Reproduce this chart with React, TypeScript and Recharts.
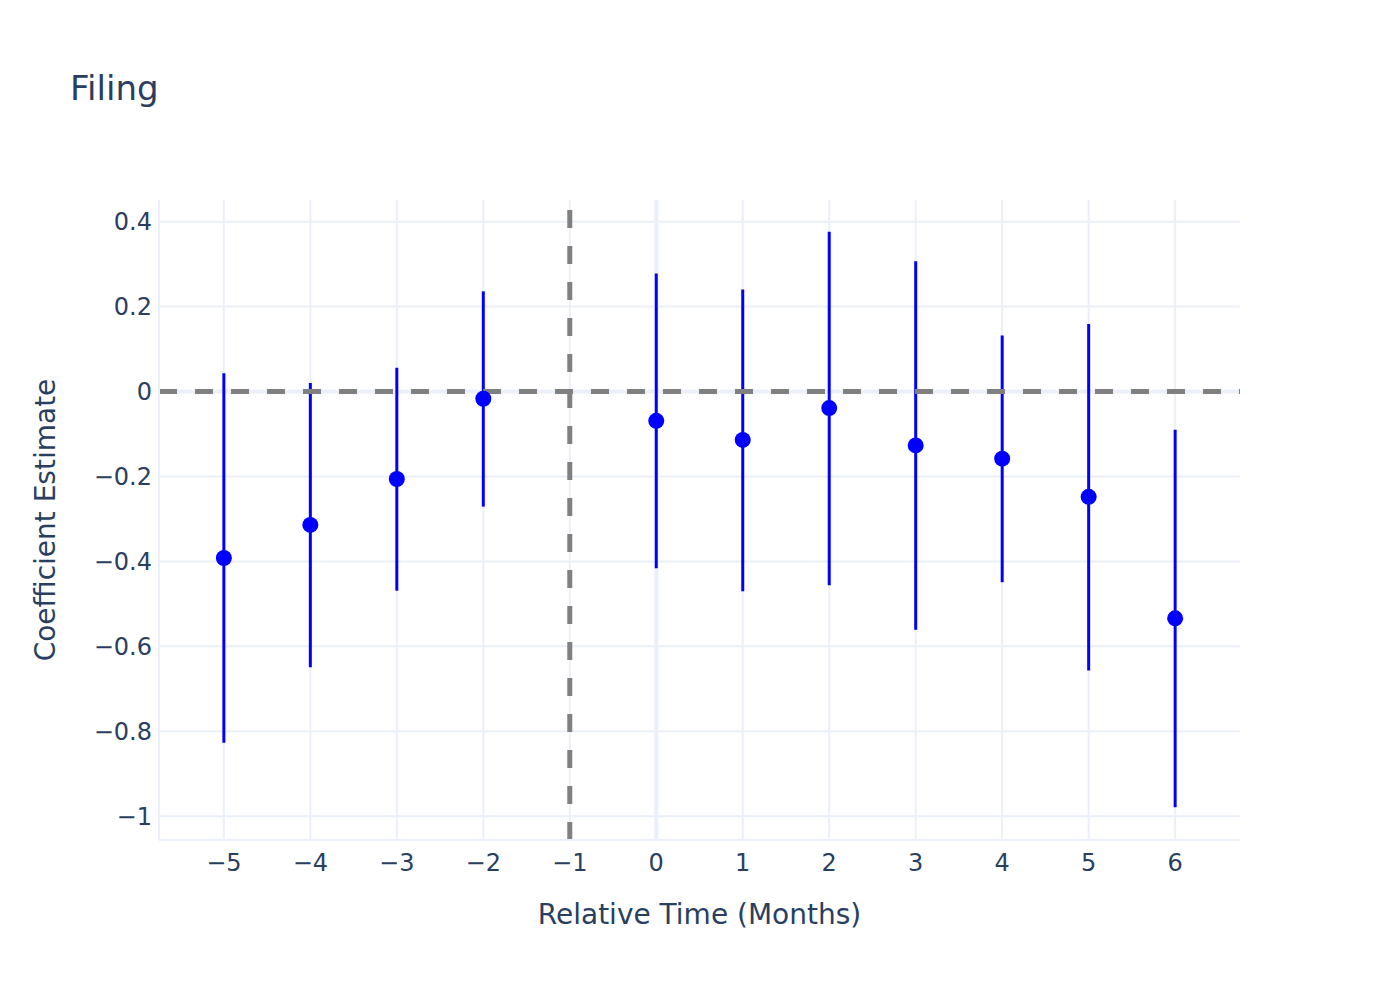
// App.tsx
// Event-study coefficient plot ("Filing") with 95% intervals (Recharts)

import {
  ComposedChart,
  Scatter,
  ErrorBar,
  XAxis,
  YAxis,
  CartesianGrid,
  ReferenceLine,
} from 'recharts'

document.body.style.margin = '0'

const months = [-5, -4, -3, -2, 0, 1, 2, 3, 4, 5, 6]
const estimates = [-0.392, -0.314, -0.206, -0.017, -0.069, -0.114, -0.039, -0.127, -0.158, -0.248, -0.534]
const ciLow = [-0.827, -0.649, -0.469, -0.271, -0.416, -0.47, -0.456, -0.561, -0.449, -0.657, -0.979]
const ciHigh = [0.043, 0.02, 0.056, 0.236, 0.278, 0.24, 0.376, 0.307, 0.132, 0.159, -0.09]

const xTicks = [-5, -4, -3, -2, -1, 0, 1, 2, 3, 4, 5, 6]
const yTicks = [0.4, 0.2, 0, -0.2, -0.4, -0.6, -0.8, -1]
const xDomain: [number, number] = [-5.75, 6.75]
const yDomain: [number, number] = [-1.056, 0.451]

const FONT = '"DejaVu Sans", Verdana, sans-serif'
const TEXT = '#2a3f5f'
const GRID = '#EBF0F8'

const rows = months.map((t, i) => ({
  t,
  est: estimates[i],
  err: [estimates[i] - ciLow[i], ciHigh[i] - estimates[i]],
}))

const fmt = (v: number) => (v < 0 ? '\u2212' + Math.abs(v) : String(v))

const Dot = (props: any) => <circle cx={props.cx} cy={props.cy} r={8} fill="#0000ff" />

export default function App() {
  return (
    <ComposedChart
      width={1400}
      height={1000}
      data={rows}
      margin={{ top: 200, right: 160, bottom: 100, left: 79 }}
      style={{ fontFamily: FONT, background: '#fff' }}
    >
      <CartesianGrid
        stroke={GRID}
        strokeWidth={2}
        horizontalValues={yTicks}
        verticalValues={xTicks}
      />
      <XAxis
        type="number"
        dataKey="t"
        domain={xDomain}
        ticks={xTicks}
        interval={0}
        allowDataOverflow
        tickFormatter={fmt}
        height={60}
        tickSize={0}
        tickMargin={14}
        axisLine={{ stroke: GRID, strokeWidth: 2 }}
        tick={{ fill: TEXT, fontSize: 24, fontFamily: FONT }}
      />
      <YAxis
        type="number"
        dataKey="est"
        domain={yDomain}
        ticks={yTicks}
        interval={0}
        allowDataOverflow
        tickFormatter={fmt}
        width={80}
        tickSize={0}
        tickMargin={7}
        axisLine={{ stroke: GRID, strokeWidth: 2 }}
        tick={{ fill: TEXT, fontSize: 24, fontFamily: FONT }}
      />
      {/* zero lines */}
      <ReferenceLine x={0} stroke={GRID} strokeWidth={4} />
      <ReferenceLine y={0} stroke={GRID} strokeWidth={4} />
      <Scatter dataKey="est" shape={Dot} isAnimationActive={false}>
        <ErrorBar dataKey="err" direction="y" width={0} stroke="#0000ff" strokeWidth={3} isAnimationActive={false} />
      </Scatter>
      <ReferenceLine
        segment={[{ x: xDomain[0], y: 0 }, { x: xDomain[1], y: 0 }]}
        stroke="#808080"
        strokeWidth={5}
        strokeDasharray="18 18"
      />
      <ReferenceLine
        segment={[{ x: -1, y: yDomain[0] }, { x: -1, y: yDomain[1] }]}
        stroke="#808080"
        strokeWidth={5}
        strokeDasharray="18 18"
      />
      <text x={70} y={100} fontSize={34} fill={TEXT} fontFamily={FONT}>
        Filing
      </text>
      <text x={699.5} y={924} textAnchor="middle" fontSize={28} fill={TEXT} fontFamily={FONT}>
        Relative Time (Months)
      </text>
      <text
        transform="rotate(-90)"
        x={-520}
        y={54.5}
        textAnchor="middle"
        fontSize={28}
        fill={TEXT}
        fontFamily={FONT}
      >
        Coefficient Estimate
      </text>
    </ComposedChart>
  )
}
